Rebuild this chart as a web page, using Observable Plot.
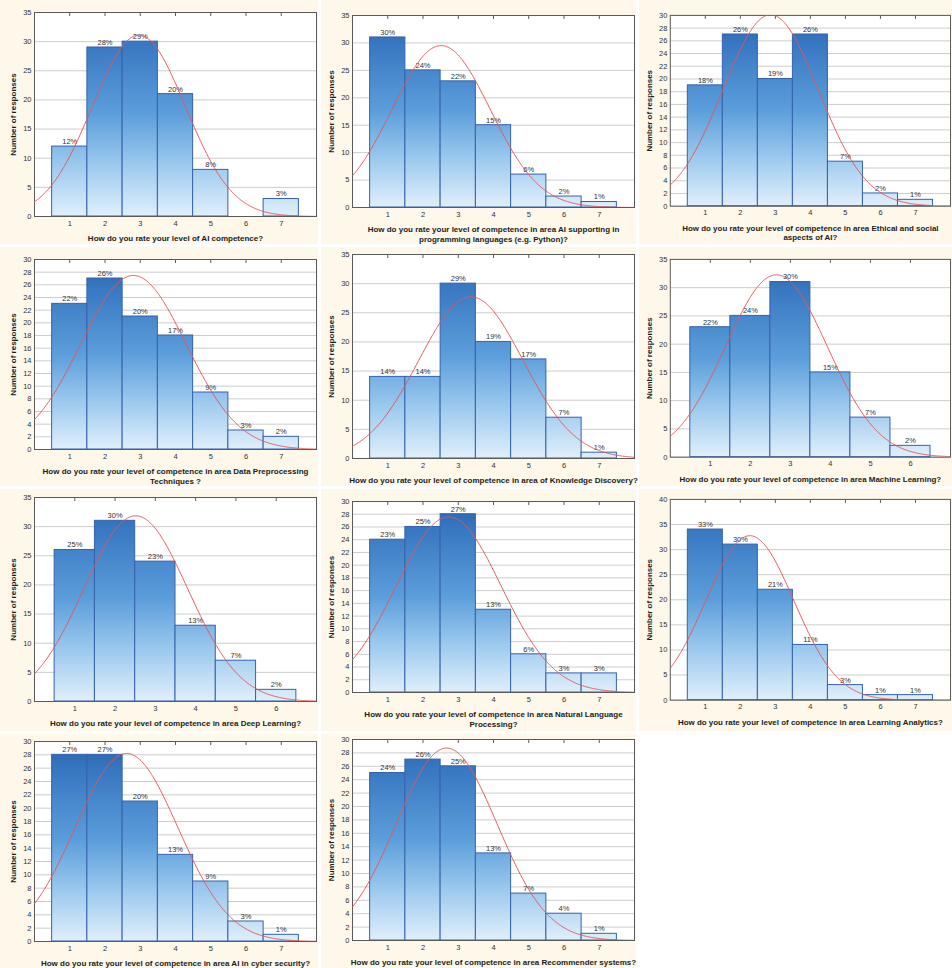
<!DOCTYPE html>
<html>
<head>
<meta charset="utf-8">
<script src="https://cdn.jsdelivr.net/npm/d3@7"></script>
<script src="https://cdn.jsdelivr.net/npm/@observablehq/plot@0.6"></script>
<style>
  html, body { margin: 0; padding: 0; background: #fff; overflow: hidden; }
  #page { position: relative; width: 952px; height: 968px; background: #fff; }
  .bg { position: absolute; background: #fdf8ea; }
  .panel { position: absolute; }
  .panel svg { overflow: visible; }
</style>
</head>
<body>
<div id="page"></div>
<script>
// Rating scale categories (1 = lowest self-rated competence)
const ratings7 = [1, 2, 3, 4, 5, 6, 7];
const ratings6 = [1, 2, 3, 4, 5, 6];

// Number of responses per rating, one array per survey question
const countsAICompetence    = [12, 29, 30, 21, 8, 0, 3];
const countsProgramming     = [31, 25, 23, 15, 6, 2, 1];
const countsEthical         = [19, 27, 20, 27, 7, 2, 1];
const countsPreprocessing   = [23, 27, 21, 18, 9, 3, 2];
const countsKnowledge       = [14, 14, 30, 20, 17, 7, 1];
const countsMachineLearning = [23, 25, 31, 15, 7, 2];
const countsDeepLearning    = [26, 31, 24, 13, 7, 2];
const countsNLP             = [24, 26, 28, 13, 6, 3, 3];
const countsAnalytics       = [34, 31, 22, 11, 3, 1, 1];
const countsCyber           = [28, 28, 21, 13, 9, 3, 1];
const countsRecommender     = [25, 27, 26, 13, 7, 4, 1];

// Y-axis tick labels
const ticks30 = [0, 2, 4, 6, 8, 10, 12, 14, 16, 18, 20, 22, 24, 26, 28, 30];
const ticks35 = [0, 5, 10, 15, 20, 25, 30, 35];
const ticks40 = [0, 5, 10, 15, 20, 25, 30, 35, 40];

// Axis titles
const yTitle = "Number of responses";
const questions = [
  "How do you rate your level of AI competence?",
  "How do you rate your level of competence in area AI supporting in\nprogramming languages (e.g. Python)?",
  "How do you rate your level of competence in area Ethical and social\naspects of AI?",
  "How do you rate your level of competence in area Data Preprocessing\nTechniques ?",
  "How do you rate your level of competence in area of Knowledge Discovery?",
  "How do you rate your level of competence in area Machine Learning?",
  "How do you rate your level of competence in area Deep Learning?",
  "How do you rate your level of competence in area Natural Language\nProcessing?",
  "How do you rate your level of competence in area Learning Analytics?",
  "How do you rate your level of competence in area AI in cyber security?",
  "How do you rate your level of competence in area Recommender systems?"
];

const panels = [
  {ratings: ratings7, counts: countsAICompetence,    ticks: ticks35},
  {ratings: ratings7, counts: countsProgramming,     ticks: ticks35},
  {ratings: ratings7, counts: countsEthical,         ticks: ticks30},
  {ratings: ratings7, counts: countsPreprocessing,   ticks: ticks30},
  {ratings: ratings7, counts: countsKnowledge,       ticks: ticks35},
  {ratings: ratings6, counts: countsMachineLearning, ticks: ticks35},
  {ratings: ratings6, counts: countsDeepLearning,    ticks: ticks35},
  {ratings: ratings7, counts: countsNLP,             ticks: ticks30},
  {ratings: ratings7, counts: countsAnalytics,       ticks: ticks40},
  {ratings: ratings7, counts: countsCyber,           ticks: ticks30},
  {ratings: ratings7, counts: countsRecommender,     ticks: ticks30}
].map((p, i) => ({...p, question: questions[i]}));

// Page layout: grid cells and the plot frame of each panel (page pixels)
const colLeft = [0, 318, 636];
const rowTop = [0, 245, 486, 731];
const rowHeight = [244, 240, 244, 237];
const frames = [
  [12, 216], [15, 207], [15, 207],
  [259, 449], [254, 458], [259, 458],
  [497, 701], [501, 692], [499, 701],
  [741, 941], [739, 940]
];
const backgrounds = {cols: [[0, 318], [321, 636], [639, 952]], rows: [[0, 244], [247, 486], [489, 731], [734, 968]]};

const FONT = "Arial, 'Liberation Sans', sans-serif";
const page = document.getElementById("page");

// cream backgrounds behind each panel
backgrounds.rows.forEach(([y0, y1], r) => {
  backgrounds.cols.forEach(([x0, x1], c) => {
    if (r * 3 + c >= panels.length) return;
    const d = document.createElement("div");
    d.className = "bg";
    Object.assign(d.style, {left: x0 + "px", top: y0 + "px", width: (x1 - x0) + "px", height: (y1 - y0) + "px"});
    page.appendChild(d);
  });
});

function histogram(i, spec) {
  const {ratings, counts, ticks, question} = spec;
  const row = Math.floor(i / 3), col = i % 3;
  const top = rowTop[row], height = rowHeight[row];
  const [frameTop, frameBottom] = frames[i];
  const marginTop = frameTop - top;
  const marginBottom = top + height - frameBottom;

  const n = d3.sum(counts);
  const bars = ratings
    .map((r, k) => ({r, c: counts[k], pct: Math.round(100 * counts[k] / n)}))
    .filter(d => d.c > 0);

  // expected normal curve fitted to the responses (mean and sample sd of the ratings)
  const mean = d3.sum(ratings, (r, k) => r * counts[k]) / n;
  const sd = Math.sqrt(d3.sum(ratings, (r, k) => counts[k] * (r - mean) ** 2) / (n - 1));
  const xMax = ratings.length + 1;
  const fit = d3.range(0, 401).map(j => {
    const x = xMax * j / 400;
    return {x, y: n / (sd * Math.sqrt(2 * Math.PI)) * Math.exp(-0.5 * ((x - mean) / sd) ** 2)};
  });
  const yMax = ticks[ticks.length - 1];

  const gid = "barfill" + i;
  const gradient = (index, scales, values, dims) => {
    const defs = d3.create("svg:defs");
    const lg = defs.append("linearGradient")
      .attr("id", gid)
      .attr("gradientUnits", "userSpaceOnUse")
      .attr("x1", 0).attr("x2", 0)
      .attr("y1", dims.marginTop).attr("y2", dims.height - dims.marginBottom);
    [[0, "#2a62ad"], [0.15, "#3877c1"], [0.5, "#5c9edb"], [0.75, "#9cc9ee"], [1, "#e0effb"]]
      .forEach(([o, c]) => lg.append("stop").attr("offset", o).attr("stop-color", c));
    return defs.node();
  };

  const chart = Plot.plot({
    width: 318,
    height,
    marginLeft: 34,
    marginRight: 2,
    marginTop,
    marginBottom,
    style: {fontFamily: FONT, fontSize: "7.5px", color: "#333", background: "transparent"},
    x: {domain: [0, xMax]},
    y: {domain: [0, yMax]},
    marks: [
      gradient,
      Plot.frame({fill: "white", stroke: null}),
      Plot.gridY(ticks, {stroke: "#cdcdcd", strokeOpacity: 1}),
      Plot.rect(bars, {
        x1: d => d.r - 0.5, x2: d => d.r + 0.5, y1: 0, y2: "c",
        fill: `url(#${gid})`, stroke: "#3562ab", strokeWidth: 1
      }),
      Plot.text(bars, {x: "r", y: "c", text: d => d.pct + "%", dy: -5, fontSize: 7.5, fill: "#333"}),
      Plot.frame({stroke: "#5a5a5a"}),
      Plot.line(fit, {x: "x", y: "y", stroke: "#e2585a", strokeWidth: 1, clip: true}),
      Plot.axisY(ticks, {tickSize: 0, tickPadding: 3, label: null, fill: "#333"}),
      Plot.axisX(ratings, {tickSize: 0, tickPadding: 4, label: null, fill: "#333"}),
      Plot.axisX(ratings, {anchor: "top", tickSize: -3, tickFormat: () => "", label: null, stroke: "#5a5a5a"}),
      Plot.text([question], {
        frameAnchor: "bottom", dy: 18, lineAnchor: "top", textAnchor: "middle",
        lineHeight: 1.2, fontSize: 8, fontWeight: "bold", fill: "#1c1c1c"
      }),
      Plot.text([yTitle], {
        frameAnchor: "left", dx: -21, rotate: -90, textAnchor: "middle", lineAnchor: "middle",
        fontSize: 8, fontWeight: "bold", fill: "#1c1c1c"
      })
    ]
  });

  const holder = document.createElement("div");
  holder.className = "panel";
  holder.style.left = colLeft[col] + "px";
  holder.style.top = top + "px";
  holder.appendChild(chart);
  page.appendChild(holder);
}

panels.forEach((p, i) => histogram(i, p));
</script>
</body>
</html>
